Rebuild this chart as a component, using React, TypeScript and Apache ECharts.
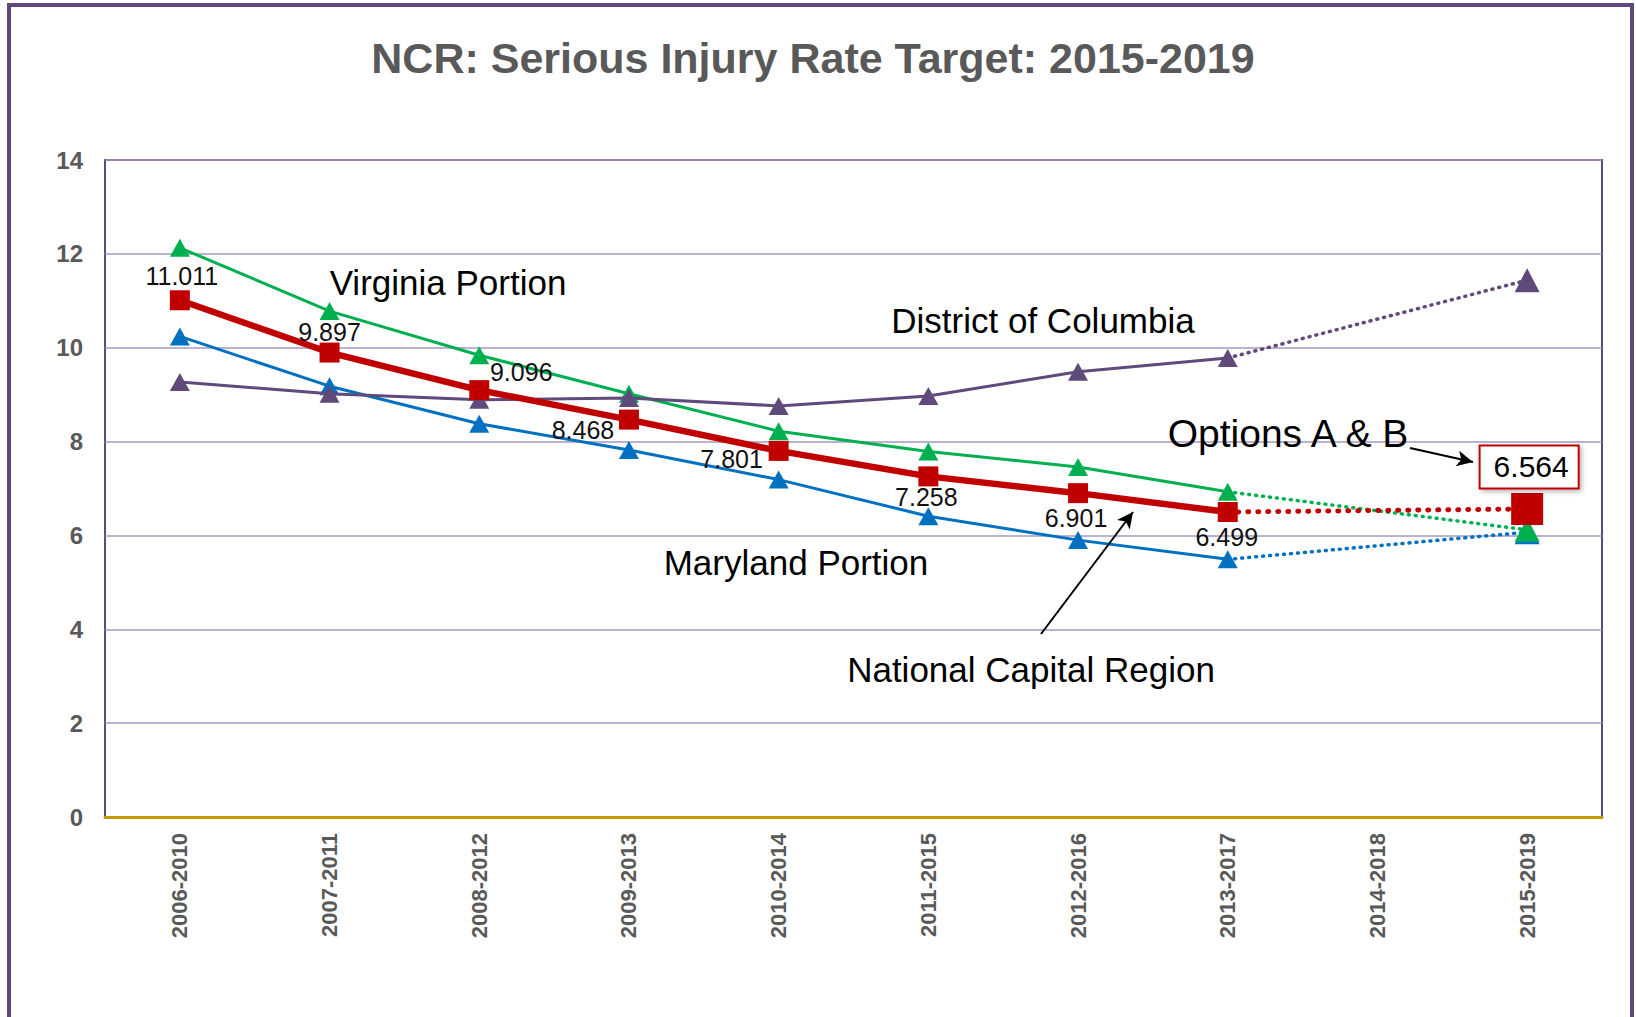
import React, { useEffect, useRef } from "react";
import * as echarts from "echarts";

const categories = [
  "2006-2010", "2007-2011", "2008-2012", "2009-2013", "2010-2014",
  "2011-2015", "2012-2016", "2013-2017", "2014-2018", "2015-2019",
];
const ncrValues: (number | null)[] = [11.011, 9.897, 9.096, 8.468, 7.801, 7.258, 6.901, 6.499, null, 6.564];
const virginiaValues: (number | null)[] = [12.13, 10.78, 9.84, 9.02, 8.22, 7.79, 7.46, 6.93, null, 6.12];
const marylandValues: (number | null)[] = [10.24, 9.18, 8.38, 7.82, 7.19, 6.41, 5.9, 5.49, null, 6.07];
const dcValues: (number | null)[] = [9.27, 9.02, 8.89, 8.93, 8.76, 8.97, 9.49, 9.78, null, 11.44];

const yTicks = { min: 0, max: 14, interval: 2 };
const lastObserved = 7;
const targetIndex = 9;

// label placement (offset from point centre) for the NCR data labels
const ncrLabelOffsets: [number, number][] = [
  [2, -24], [0, -21], [42, -18], [-46, 10], [-47, 8], [-2, 21], [-2, 25], [-1, 25], [0, 0], [2, -42],
];

const PURPLE = "#5f497a";
const GRID = "#a497c2";
const RED = "#c00000";
const GREEN = "#00b050";
const BLUE = "#0070c0";
const DC = "#604a7b";
const GOLD = "#c49a00";
const GRAY = "#595959";
const NARROW = "'Liberation Sans Narrow', 'Arial Narrow', 'Liberation Sans', sans-serif";

function solidPart(values: (number | null)[]) {
  return values.map((v, i) => (i <= lastObserved ? v : null));
}
function projPart(values: (number | null)[], bigSize: number | number[]) {
  return values.map((v, i) => {
    if (i === lastObserved) return { value: v, symbol: "none" };
    if (i === targetIndex) return { value: v, symbolSize: bigSize };
    return null;
  });
}

function makeLine(name: string, values: (number | null)[], color: string, symbol: string, size: any, bigSize: any, width: number, dash: number[], dashWidth: number, z: number) {
  return [
    {
      name,
      type: "line",
      data: solidPart(values),
      symbol,
      symbolSize: size,
      showAllSymbol: true,
      itemStyle: { color },
      lineStyle: { color, width },
      z,
    },
    {
      name: name + " target",
      type: "line",
      data: projPart(values, bigSize),
      connectNulls: true,
      symbol,
      symbolSize: size,
      itemStyle: { color },
      lineStyle: { color, width: dashWidth, type: dash, cap: "round" },
      z: z - 1,
    },
  ];
}

export default function App() {
  const ref = useRef<HTMLDivElement>(null);
  useEffect(() => {
    if (!ref.current) return;
    const chart = echarts.init(ref.current, undefined, { renderer: "svg" });

    const md = makeLine("Maryland Portion", marylandValues, BLUE, "triangle", [20, 18], [25, 24], 3, [1, 6], 3.5, 3);
    const va = makeLine("Virginia Portion", virginiaValues, GREEN, "triangle", [20, 18], [25, 24], 3, [1, 6], 3.5, 4);
    const dc = makeLine("District of Columbia", dcValues, DC, "triangle", [20, 18], [25, 24], 3, [1, 6], 3.5, 5);
    const ncr = makeLine("National Capital Region", ncrValues, RED, "rect", 20, 32, 6.5, [1, 9], 5, 7);

    const labelBase = {
      show: true,
      position: "inside",
      fontSize: 25,
      color: "#111",
      fontFamily: "'Liberation Sans', sans-serif",
      formatter: (p: any) => (p.value == null ? "" : Number(p.value).toFixed(3)),
    };
    (ncr[0] as any).data = (ncr[0] as any).data.map((v: any, i: number) =>
      v == null ? null : { value: v, label: { ...labelBase, offset: ncrLabelOffsets[i] } }
    );
    (ncr[1] as any).data = (ncr[1] as any).data.map((d: any, i: number) =>
      d && i === targetIndex
        ? {
            ...d,
            label: {
              show: true,
              position: "inside",
              offset: ncrLabelOffsets[i],
              fontSize: 30,
              color: "#000",
              fontFamily: "'Liberation Sans', sans-serif",
              backgroundColor: "#fff",
              borderColor: RED,
              borderWidth: 2,
              padding: [6, 9, 5, 13],
              shadowBlur: 5,
              shadowColor: "rgba(0,0,0,0.3)",
              shadowOffsetX: 2,
              shadowOffsetY: 2,
              formatter: (p: any) => Number(p.value).toFixed(3),
            },
          }
        : d
    );
    (ncr[1] as any).markLine = {
      silent: true,
      symbol: ["none", "arrow"],
      symbolSize: [12, 16],
      label: { show: false },
      lineStyle: { color: "#000", width: 2, type: "solid" },
      data: [
        [{ x: 1041, y: 634 }, { x: 1133, y: 512 }],
        [{ x: 1410, y: 448 }, { x: 1473, y: 462 }],
      ],
    };

    const annotation = (text: string, x: number, y: number, size = 35) => ({
      type: "text",
      x,
      y,
      z: 50,
      style: {
        text,
        fill: "#000",
        font: `${size}px 'Liberation Sans', sans-serif`,
        textAlign: "center",
        textVerticalAlign: "middle",
      },
    });

    chart.setOption({
      animation: false,
      backgroundColor: "#fff",
      textStyle: { fontFamily: "'Liberation Sans', sans-serif" },
      title: {
        text: "NCR: Serious Injury Rate Target: 2015-2019",
        left: 808,
        textAlign: "center",
        top: 31,
        textStyle: { fontSize: 43, fontWeight: "bold", color: GRAY, fontFamily: "'Liberation Sans', sans-serif" },
      },
      grid: {
        left: 105,
        right: 34,
        top: 160,
        bottom: 200,
        show: true,
        borderColor: PURPLE,
        borderWidth: 2,
        containLabel: false,
      },
      xAxis: {
        type: "category",
        data: categories,
        boundaryGap: true,
        axisLine: { show: true, lineStyle: { color: GOLD, width: 3 } },
        axisTick: { show: false },
        axisLabel: {
          rotate: 90,
          interval: 0,
          margin: 16,
          fontSize: 22,
          fontWeight: "bold",
          color: GRAY,
          fontFamily: NARROW,
        },
        splitLine: { show: false },
      },
      yAxis: {
        type: "value",
        min: yTicks.min,
        max: yTicks.max,
        interval: yTicks.interval,
        axisLine: { show: false },
        axisTick: { show: false },
        axisLabel: { margin: 22, fontSize: 24, fontWeight: "bold", color: GRAY, fontFamily: NARROW },
        splitLine: { show: true, lineStyle: { color: GRID, width: 1.5 } },
      },
      graphic: [
        {
          type: "rect",
          z: 100,
          silent: true,
          shape: { x: 9, y: 5, width: 1623, height: 1100 },
          style: { fill: "none", stroke: PURPLE, lineWidth: 4 },
        },
        annotation("Virginia Portion", 448, 282),
        annotation("District of Columbia", 1043, 320),
        annotation("Options A & B", 1288, 433, 39),
        annotation("Maryland Portion", 796, 562),
        annotation("National Capital Region", 1031, 669),
      ],
      series: [...md, ...va, ...dc, ...ncr],
    });
    return () => chart.dispose();
  }, []);
  return (
    <div
      ref={ref}
      style={{ position: "absolute", left: 0, top: 0, width: 1636, height: 1017 }}
    />
  );
}
